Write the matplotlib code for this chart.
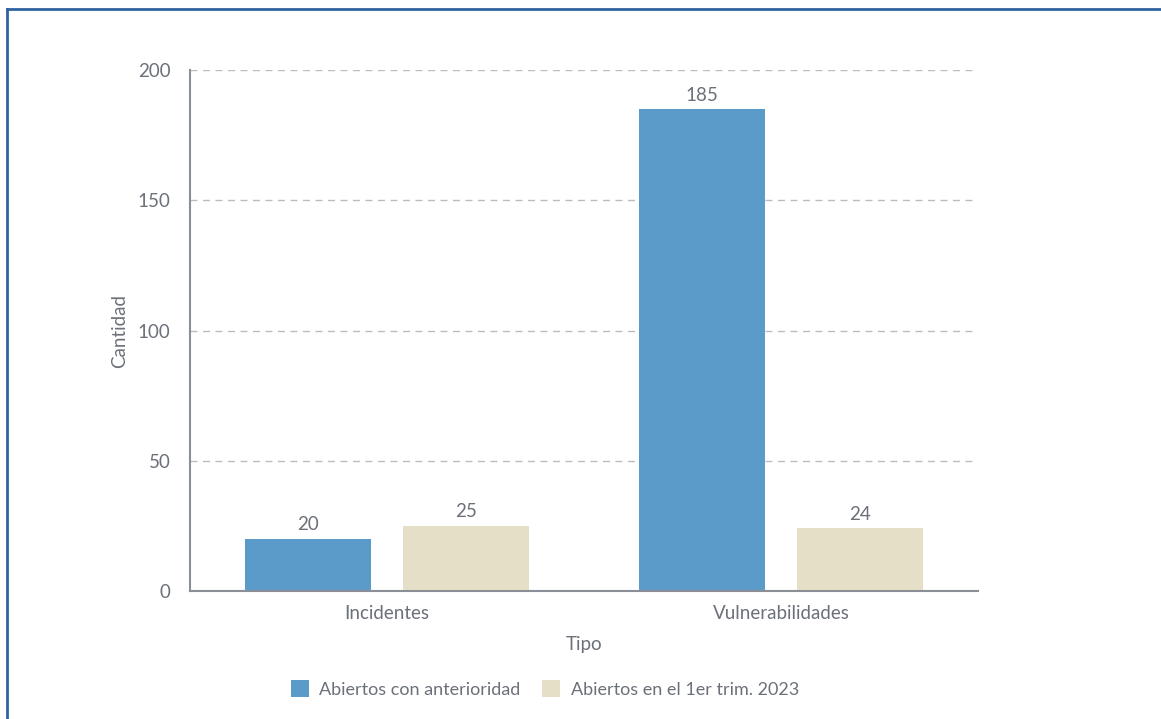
import matplotlib.pyplot as plt
import numpy as np
from matplotlib.lines import Line2D

# data
tipos = ['Incidentes', 'Vulnerabilidades']
anteriores = [20, 185]
primer_trim = [25, 24]
series_names = ['Abiertos con anterioridad', 'Abiertos en el 1er trim. 2023']

blue = '#5b9bca'
beige = '#e6dfc7'
txt = '#6b7079'
fs = 13.5

plt.rcParams['font.family'] = ['Lato', 'DejaVu Sans']

fig = plt.figure(figsize=(11.61, 7.19), dpi=100)
ax = fig.add_axes([190 / 1161, 1 - 591 / 719, (978 - 190) / 1161, (591 - 70) / 719])

x = np.arange(len(tipos))
w = 0.32
b1 = ax.bar(x - 0.2, anteriores, w, color=blue, label=series_names[0], zorder=3)
b2 = ax.bar(x + 0.2, primer_trim, w, color=beige, label=series_names[1], zorder=3)

for bars in (b1, b2):
    for b in bars:
        ax.annotate(str(int(b.get_height())), (b.get_x() + b.get_width() / 2, b.get_height()),
                    xytext=(0, 4), textcoords='offset points', ha='center', va='bottom',
                    fontsize=fs, color=txt)

ax.set_xlim(-0.5, 1.5)
ax.set_ylim(0, 200)
ax.set_yticks([0, 50, 100, 150, 200])
ax.set_xticks(x)
ax.set_xticklabels(tipos)
ax.tick_params(length=0, labelsize=fs, labelcolor=txt)
ax.tick_params(axis='x', pad=10)
ax.tick_params(axis='y', pad=14)
ax.yaxis.grid(True, linestyle=(0, (5, 4)), color='#b9bdc3', linewidth=1)
ax.set_axisbelow(True)
for s in ('top', 'right'):
    ax.spines[s].set_visible(False)
for s in ('left', 'bottom'):
    ax.spines[s].set_color('#8a8f97')
    ax.spines[s].set_linewidth(1.5)
    ax.spines[s].set_zorder(4)

ax.set_ylabel('Cantidad', fontsize=fs, color=txt, labelpad=7)
ax.set_xlabel('Tipo', fontsize=fs, color=txt, labelpad=10)

fig.legend(loc='center', bbox_to_anchor=(545 / 1161, 1 - 689 / 719), ncol=2, frameon=False,
           fontsize=13, labelcolor=txt, handlelength=1.0, handleheight=1.0,
           handletextpad=0.6, columnspacing=1.2)

# blue frame at the top and left edge
fig.add_artist(Line2D([6.5 / 1161, 6.5 / 1161], [0, 1 - 8.5 / 719], transform=fig.transFigure,
                      color='#2f62a0', linewidth=2))
fig.add_artist(Line2D([6.5 / 1161, 1], [1 - 8.5 / 719, 1 - 8.5 / 719], transform=fig.transFigure,
                      color='#2f62a0', linewidth=2))

fig.savefig('out.png', dpi=100)
